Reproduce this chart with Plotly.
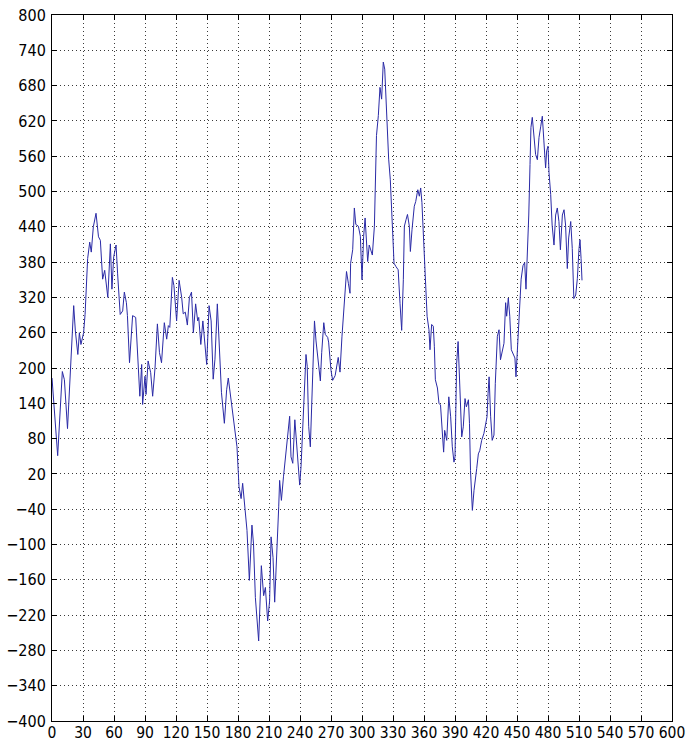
import plotly.graph_objects as go

# Sample index (x) and signal value (y) of the trace
sample_idx = [
    0, 5.5, 10, 12, 15, 21, 22.6, 25, 26.5, 28, 30.6, 32, 34.5, 36.5, 38, 40, 42.6, 45, 46.8, 49,
    51, 54, 56.5, 58, 59.7, 62, 63.5, 66, 68.4, 70, 72, 73, 75,
    78, 81, 83.5, 85, 86.8, 87.7, 90, 91, 93, 95.5, 97.4, 99.7, 102, 104, 106, 108.7, 111, 112.6,
    114, 116.5, 118, 120.6, 123, 125.5, 127, 129, 131, 133, 135, 136.8, 139, 141, 142, 144, 146,
    148, 149.7, 152, 154, 156, 157.7, 160, 161.6, 164, 166.8, 169,
    170.6, 172, 174.5, 177, 179, 181, 183, 184.5, 186, 188.7, 191, 193.5, 195, 196.8, 200, 202.6,
    204.8, 206.5, 208.7, 210.6, 212, 213.9, 215.5, 217.7, 219.4, 220.3, 222, 224, 226.5, 228, 230,
    231.3, 233, 235, 236.5, 238, 239.7, 241, 243, 244.5, 245.8, 247, 248.4, 250, 251, 252.6, 254,
    255.5, 257.4, 259.7, 261, 263, 264.5,
    266.8, 267.7, 270, 271.6, 274, 277, 278.7, 280.6, 283, 285, 286.8, 288.4, 289, 291, 292.6, 294,
    296.5, 298.4, 300, 301.6, 303, 304.5, 305.5, 307, 308.7, 310, 312, 313, 314, 315.8, 317.4, 319,
    320.6, 322, 324, 325.8, 327.4, 329.7, 331, 333, 335, 336.8, 338.4, 340, 341, 342.6, 344, 345.8,
    346.8, 348.4, 350.6, 352, 354, 355.5, 356.8, 358,
    360, 361.6, 363, 364.8, 365.8, 367.4, 369, 370, 371, 373, 374.5, 376, 377.7, 379, 380, 382, 384,
    385.8, 387.4, 389, 390, 391.6, 393, 394.8, 396.5, 398, 399.7, 401, 403, 404, 405, 406.8, 408.4,
    411, 412.6, 414, 415.8, 418, 419.7, 421, 422, 423, 424.5, 426, 427.7, 429, 431, 432.6, 434,
    435.8, 437.4, 439, 440, 441.6, 443, 444.5, 446, 448, 449, 451, 452.6,
    454, 455.8, 457.4, 458.7, 460, 461.4, 462.6, 463.5, 464.8, 466.5, 468, 469.7, 471.3, 473, 474.5,
    476, 477.7, 478.7, 480, 481, 482.6, 484, 485.8, 487.4, 489, 490.6, 492, 493.9, 495.5, 497,
    498.7, 500, 502, 503.5, 505, 506.8, 508.4, 510, 511, 512, 512.9,
]
signal = [
    183, 51, 194, 180, 97, 306, 263, 223, 260, 240, 260, 291, 386, 414, 397, 440, 463, 423, 417, 351,
    366, 320, 411, 334, 389, 409, 360, 291, 297, 329, 311, 289, 209,
    289, 286, 198, 152, 206, 138, 186, 155, 212, 192, 152, 200, 275, 226, 209, 277, 249, 272,
    269, 354, 340, 280, 349, 320, 292, 295, 273, 320, 329, 260, 309, 280, 286, 240, 280,
    232, 206, 306, 280, 181, 215, 309, 257, 158, 106, 163,
    183, 163, 124, 97, 66, -2, -22, 4, -25, -76, -161, -67, -99, -190, -264, -136,
    -187, -173, -230, -196, -87, -122, -198, -116, -36, 9, -25, 15, 61, 84, 118,
    49, 38, 112, 78, 32, 1, 32, 106, 180, 223, 203, 101, 66, 118, 226, 280,
    246, 217, 178, 226, 277, 257,
    252, 244, 196, 179, 187, 218, 193, 253, 321, 364, 344, 327, 378, 401, 472, 444,
    441, 424, 350, 424, 455, 418, 381, 409, 401, 392, 441, 518, 595, 629, 677, 657,
    720, 708, 623, 555, 520, 441, 378, 372, 367, 310, 264, 350, 441, 452, 461, 441,
    398, 435, 475, 483, 503, 492, 506, 481,
    391, 322, 288, 265, 231, 274, 271, 237, 180, 166, 140, 137, 83, 57, 94, 77, 151,
    117, 66, 40, 49, 208, 245, 174, 83, 100, 148, 134, 146, 106, 26, -42, -8,
    29, 54, 60, 77, 89, 106, 117, 157, 185, 117, 77, 86, 174, 254, 265, 214,
    228, 242, 311, 288, 319, 288, 231, 225, 217, 185, 245, 311,
    351, 374, 379, 334, 391, 460, 546, 609, 626, 597, 563, 554, 592, 611, 628,
    586, 540, 569, 577, 532, 495, 443, 409, 460, 472, 449, 401, 460, 469, 443,
    369, 421, 449, 403, 318, 324, 352, 403, 418, 386, 349,
]

x_range = [0, 600]
y_range = [-400, 800]
x_step = 30
y_step = 60

font_family = "Liberation Sans Narrow, Arial Narrow, DejaVu Sans Condensed, Liberation Sans, Arial, sans-serif"

fig = go.Figure(
    go.Scatter(
        x=sample_idx,
        y=signal,
        mode="lines",
        line=dict(color="#2a2aa6", width=1),
        hoverinfo="skip",
        showlegend=False,
    )
)

axis_style = dict(
    showline=True,
    linecolor="black",
    linewidth=1,
    mirror="ticks",
    ticks="inside",
    ticklen=5,
    tickwidth=1,
    tickcolor="black",
    showgrid=True,
    gridcolor="#3a3a3a",
    gridwidth=1,
    griddash="1px,3px",
    zeroline=False,
    automargin=False,
)

fig.update_xaxes(range=x_range, tick0=0, dtick=x_step, tickangle=0,
                 ticklabelstandoff=-3,
                 tickfont=dict(family=font_family, size=15.5, color="black"),
                 **axis_style)
fig.update_yaxes(range=y_range, tick0=-400, dtick=y_step,
                 ticklabelstandoff=2,
                 tickfont=dict(family=font_family, size=16, color="black"),
                 **axis_style)

fig.update_layout(
    width=689,
    height=747,
    margin=dict(l=52, r=17, t=15, b=26),
    paper_bgcolor="white",
    plot_bgcolor="white",
    font=dict(family=font_family, color="black"),
)

fig.write_html("out.html")
